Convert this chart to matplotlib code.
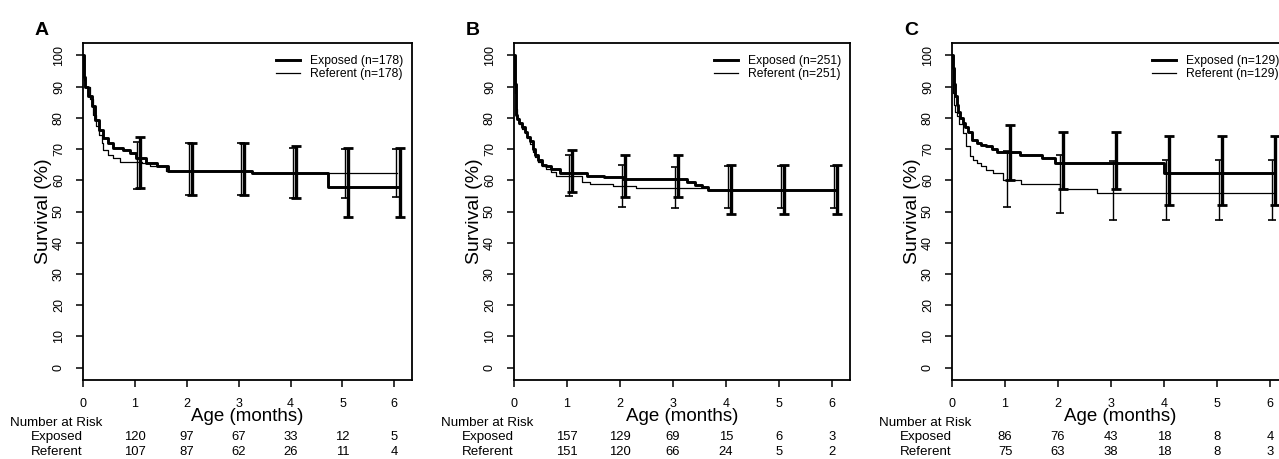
import matplotlib
matplotlib.use("Agg")
import matplotlib.pyplot as plt
import numpy as np
from matplotlib.transforms import blended_transform_factory

plt.rcParams['font.family'] = ['Liberation Sans', 'DejaVu Sans']

# ---------------- data ----------------
months = [0, 1, 2, 3, 4, 5, 6]
risk_times = [1, 2, 3, 4, 5, 6]

panel_letters = ["A", "B", "C"]
n_per_group = [178, 251, 129]

# Panel A step curves (time in months, survival %)
a_exp_t = [0, 0.02, 0.04, 0.1, 0.17, 0.23, 0.3, 0.39, 0.49, 0.58, 0.78, 0.91, 1.03, 1.22, 1.42, 1.64, 3.25, 4.72]
a_exp_s = [100, 93, 90, 87, 83.7, 79.4, 76.2, 73.5, 71.9, 70.3, 69.8, 68.7, 67.1, 65.5, 64.5, 63.0, 62.3, 58.0]
a_ref_t = [0, 0.02, 0.04, 0.13, 0.2, 0.26, 0.31, 0.36, 0.39, 0.49, 0.58, 0.71, 1.13, 1.29, 1.6, 3.25]
a_ref_s = [100, 92, 90, 85.9, 81, 77.3, 74.5, 71.9, 69.8, 68.2, 67.1, 66.0, 65.5, 64.5, 63.0, 62.3]

# Panel B
b_exp_t = [0, 0.01, 0.02, 0.03, 0.04, 0.06, 0.1, 0.15, 0.2, 0.25, 0.3, 0.35, 0.4, 0.45, 0.52, 0.6, 0.7, 0.87, 1.37, 1.7, 2.06, 3.26, 3.42, 3.55, 3.67]
b_exp_s = [100, 96, 91, 86, 81, 79.5, 78.5, 77, 75.5, 74, 72.5, 70, 68, 66.5, 65, 64.5, 63.5, 62.2, 61.5, 61, 60.5, 59.6, 58.5, 58, 56.9]
b_ref_t = [0, 0.01, 0.02, 0.03, 0.05, 0.1, 0.15, 0.2, 0.25, 0.3, 0.35, 0.4, 0.45, 0.52, 0.6, 0.7, 0.8, 1.28, 1.43, 1.87, 2.31, 3.67]
b_ref_s = [100, 95, 88, 83, 80, 78, 76.5, 75, 73.5, 71.5, 69, 67.5, 66, 64.5, 63.5, 62.5, 61.5, 59.6, 58.8, 58.2, 57.5, 56.9]

# Panel C
c_exp_t = [0, 0.02, 0.04, 0.06, 0.09, 0.12, 0.16, 0.2, 0.25, 0.3, 0.37, 0.47, 0.55, 0.65, 0.75, 0.84, 1.28, 1.69, 1.94, 4.0]
c_exp_s = [100, 96, 91, 87, 84, 82, 80, 78.5, 77, 75.5, 73, 72, 71.3, 70.9, 70, 69.1, 68.2, 67.1, 65.5, 62.2]
c_ref_t = [0, 0.01, 0.03, 0.06, 0.09, 0.14, 0.21, 0.27, 0.34, 0.4, 0.47, 0.55, 0.65, 0.78, 0.96, 1.31, 2.04, 2.73]
c_ref_s = [100, 88, 84, 82, 80.5, 78, 75, 71, 67.7, 66.5, 65.5, 64.5, 63.4, 62.3, 60.2, 58.9, 57.1, 56.0]

curve_end = [6.06, 6.09, 6.1]

# Confidence intervals at months 1..6
a_ref_lo = [57.1, 55.3, 55.3, 54.2, 54.2, 54.5]
a_ref_hi = [72.4, 71.9, 71.9, 70.5, 70.0, 70.0]
a_exp_lo = [57.4, 55.3, 55.3, 54.2, 48.1, 48.1]
a_exp_hi = [74.0, 71.9, 71.9, 71.0, 70.3, 70.3]

b_ref_lo = [55.0, 51.6, 51.1, 51.1, 51.1, 51.1]
b_ref_hi = [68.2, 64.8, 64.2, 64.5, 64.5, 64.5]
b_exp_lo = [56.1, 54.6, 54.6, 49.3, 49.3, 49.3]
b_exp_hi = [69.6, 68.2, 68.2, 65.0, 65.0, 65.0]

c_ref_lo = [51.6, 49.5, 47.3, 47.3, 47.3, 47.3]
c_ref_hi = [69.3, 68.2, 66.1, 66.6, 66.6, 66.6]
c_exp_lo = [60.2, 57.2, 57.2, 52.1, 52.1, 52.1]
c_exp_hi = [77.8, 75.4, 75.4, 74.1, 74.1, 74.1]

# Numbers at risk
a_risk_exp = [120, 97, 67, 33, 12, 5]
a_risk_ref = [107, 87, 62, 26, 11, 4]
b_risk_exp = [157, 129, 69, 15, 6, 3]
b_risk_ref = [151, 120, 66, 24, 5, 2]
c_risk_exp = [86, 76, 43, 18, 8, 4]
c_risk_ref = [75, 63, 38, 18, 8, 3]

panels = [
    dict(exp_t=a_exp_t, exp_s=a_exp_s, ref_t=a_ref_t, ref_s=a_ref_s,
         ref_lo=a_ref_lo, ref_hi=a_ref_hi, exp_lo=a_exp_lo, exp_hi=a_exp_hi,
         risk_exp=a_risk_exp, risk_ref=a_risk_ref),
    dict(exp_t=b_exp_t, exp_s=b_exp_s, ref_t=b_ref_t, ref_s=b_ref_s,
         ref_lo=b_ref_lo, ref_hi=b_ref_hi, exp_lo=b_exp_lo, exp_hi=b_exp_hi,
         risk_exp=b_risk_exp, risk_ref=b_risk_ref),
    dict(exp_t=c_exp_t, exp_s=c_exp_s, ref_t=c_ref_t, ref_s=c_ref_s,
         ref_lo=c_ref_lo, ref_hi=c_ref_hi, exp_lo=c_exp_lo, exp_hi=c_exp_hi,
         risk_exp=c_risk_exp, risk_ref=c_risk_ref),
]

# ---------------- layout ----------------
W, H = 1279, 459
fig = plt.figure(figsize=(W / 100, H / 100), dpi=100)
fig.patch.set_facecolor("white")

# axes boxes in pixels: (left, right, top, bottom)
boxes = [(83, 412, 43, 380), (514, 850, 43, 380), (952, 1288, 43, 380)]

ref_off, exp_off = 0.04, 0.10

for i, (p, box) in enumerate(zip(panels, boxes)):
    l, r, t, b = box
    ax = fig.add_axes([l / W, (H - b) / H, (r - l) / W, (b - t) / H])
    ax.set_xlim(0, 6.34)
    ax.set_ylim(-4, 104)

    end = curve_end[i]
    # step curves
    ax.step(list(p["ref_t"]) + [end], list(p["ref_s"]) + [p["ref_s"][-1]],
            where="post", color="black", lw=0.9, label=f"Referent (n={n_per_group[i]})", zorder=3)
    ax.step(list(p["exp_t"]) + [end], list(p["exp_s"]) + [p["exp_s"][-1]],
            where="post", color="black", lw=2.1, label=f"Exposed (n={n_per_group[i]})", zorder=4)

    # confidence interval bars
    xr = np.array(risk_times) + ref_off
    xe = np.array(risk_times) + exp_off
    rlo, rhi = np.array(p["ref_lo"]), np.array(p["ref_hi"])
    elo, ehi = np.array(p["exp_lo"]), np.array(p["exp_hi"])
    ax.errorbar(xr, rlo, yerr=[np.zeros_like(rlo), rhi - rlo], fmt="none",
                ecolor="black", elinewidth=1.0, capsize=3.0, capthick=1.2, zorder=5)
    ax.errorbar(xe, elo, yerr=[np.zeros_like(elo), ehi - elo], fmt="none",
                ecolor="black", elinewidth=2.4, capsize=3.5, capthick=2.0, zorder=6)

    # axes style
    for s in ax.spines.values():
        s.set_linewidth(1.3)
        s.set_color("black")
    ax.set_xticks(months)
    ax.set_xticklabels([str(m) for m in months])
    ax.set_yticks(range(0, 101, 10))
    ax.set_yticklabels([str(v) for v in range(0, 101, 10)], rotation=90, va="center")
    ax.tick_params(axis="both", direction="out", length=5, width=1.1, labelsize=9, colors="black")
    ax.tick_params(axis="x", pad=8)
    ax.tick_params(axis="y", pad=8)

    wpx = r - l
    hpx = b - t
    ax.set_ylabel("Survival (%)", fontsize=14)
    ax.yaxis.set_label_coords((52 - 83) / wpx, 0.5)
    ax.set_xlabel("Age (months)", fontsize=13.5)
    ax.xaxis.set_label_coords(0.5, (380 - 408) / hpx)

    # legend (handles: Exposed first)
    h, lab = ax.get_legend_handles_labels()
    leg = ax.legend(h[::-1], lab[::-1], loc="upper right",
                    bbox_to_anchor=(1 - 9 / wpx, 1 - 12 / hpx), frameon=False,
                    fontsize=8.7, handlelength=2.0, handletextpad=0.8,
                    labelspacing=0.1, borderpad=0, borderaxespad=0)

    # panel letter
    ax.text(-48 / wpx, (380 - 35) / hpx, panel_letters[i], transform=ax.transAxes,
            fontsize=14, fontweight="bold", ha="left", va="baseline")

    # number at risk table
    ax.text(-73 / wpx, (380 - 423) / hpx, "Number at Risk", transform=ax.transAxes,
            fontsize=9.6, ha="left", va="center", clip_on=False)
    ax.text(-26 / wpx, (380 - 437) / hpx, "Exposed", transform=ax.transAxes,
            fontsize=9.6, ha="center", va="center", clip_on=False)
    ax.text(-26 / wpx, (380 - 452) / hpx, "Referent", transform=ax.transAxes,
            fontsize=9.6, ha="center", va="center", clip_on=False)
    trans = blended_transform_factory(ax.transData, ax.transAxes)
    for x, ne, nr in zip(risk_times, p["risk_exp"], p["risk_ref"]):
        ax.text(x, (380 - 437) / hpx, str(ne), transform=trans, fontsize=9.4,
                ha="center", va="center", clip_on=False)
        ax.text(x, (380 - 452) / hpx, str(nr), transform=trans, fontsize=9.4,
                ha="center", va="center", clip_on=False)

fig.savefig("out.png", dpi=100, facecolor="white")
